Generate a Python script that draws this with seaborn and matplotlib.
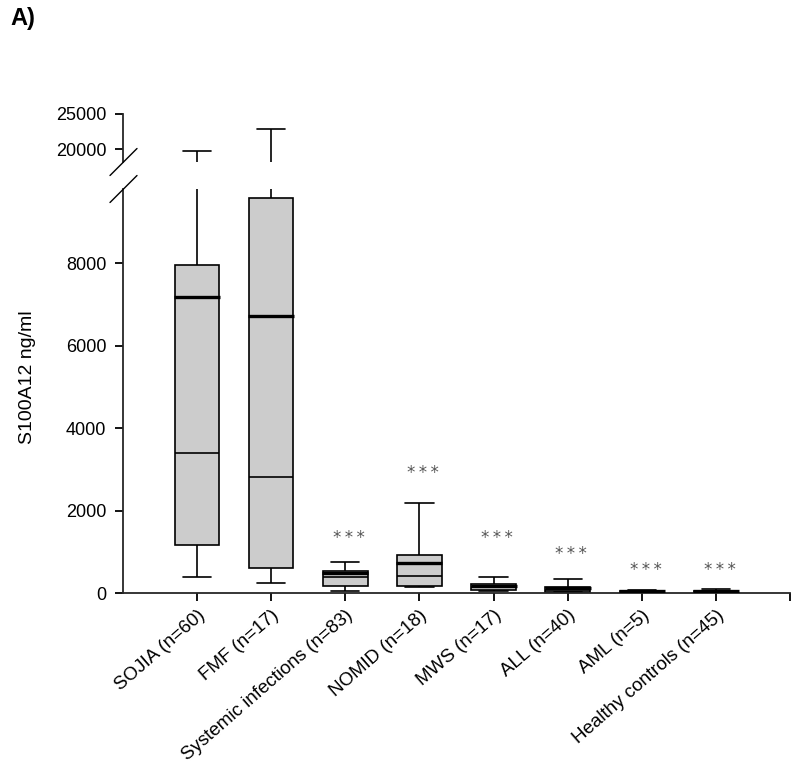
import matplotlib
matplotlib.use("Agg")
import matplotlib.pyplot as plt
from matplotlib.lines import Line2D
import seaborn as sns
import numpy as np
import pandas as pd

# groups and five-number summaries (ng/ml)
groups = ["SOJIA (n=60)", "FMF (n=17)", "Systemic infections (n=83)", "NOMID (n=18)",
          "MWS (n=17)", "ALL (n=40)", "AML (n=5)", "Healthy controls (n=45)"]
whisker_low = [390, 245, 56, 138, 50, 15, 10, 15]
q1 = [1165, 610, 162, 170, 73, 30, 18, 22]
median = [3400, 2815, 395, 420, 145, 80, 35, 40]
q3 = [7960, 9590, 540, 915, 225, 153, 55, 60]
whisker_high = [19700, 22860, 760, 2190, 380, 348, 75, 100]
# thick line inside each box
mean = [7180, 6720, 485, 728, 178, 130, 40, 45]
# significance marks (y of the text centre)
star_y = [None, None, 1340, 2920, 1340, 950, 560, 560]

sns.set_style("ticks")
plt.rcParams["font.family"] = ["Liberation Sans", "DejaVu Sans"]
plt.rcParams["text.color"] = "black"
plt.rcParams["xtick.color"] = "black"
plt.rcParams["ytick.color"] = "black"

# long form: each group holds its five summary values, so the boxplot
# quartiles land exactly on q1 / median / q3 and whiskers on min / max
rows = []
for g, a, b, c, d, e in zip(groups, whisker_low, q1, median, q3, whisker_high):
    for v in (a, b, c, d, e):
        rows.append({"group": g, "value": v})
df = pd.DataFrame(rows)

fig = plt.figure(figsize=(8, 7.64), dpi=100)
ax_lo = fig.add_axes([0.15375, 0.22382, 0.83375, 0.5288])
ax_hi = fig.add_axes([0.15375, 0.78796, 0.83375, 0.06283], sharex=ax_lo)

box_kw = dict(data=df, x="group", y="value", order=groups, whis=(0, 100),
              width=0.6, color="#cccccc", linecolor="black", linewidth=1.2,
              showfliers=False, capwidths=0.38)
for ax in (ax_lo, ax_hi):
    sns.boxplot(ax=ax, **box_kw)
    ax.hlines(mean, np.arange(len(groups)) - 0.31, np.arange(len(groups)) + 0.31,
              color="black", linewidth=2.4, zorder=5)
    ax.set_xlabel("")
    ax.set_ylabel("")
    for s in ("top", "right"):
        ax.spines[s].set_visible(False)
    for s in ("left", "bottom"):
        ax.spines[s].set_linewidth(1.3)
    ax.tick_params(width=1.3, length=6, pad=6, labelsize=13)

ax_lo.set_xlim(-1, 8)
ax_lo.set_ylim(0, 9800)
ax_lo.set_yticks([0, 2000, 4000, 6000, 8000])
ax_hi.set_ylim(18150, 25000)
ax_hi.set_yticks([20000, 25000])
ax_hi.spines["bottom"].set_visible(False)
ax_hi.tick_params(axis="x", bottom=False, labelbottom=False)

ax_lo.set_xticks(list(range(len(groups))) + [8])
ax_lo.set_xticklabels(groups + [""], rotation=41, ha="right", va="top",
                      rotation_mode="anchor", fontsize=13.5)
ax_lo.tick_params(axis="x", pad=4)

for i, sy in enumerate(star_y):
    if sy is not None:
        ax_lo.text(i + 0.05, sy, "*\u2009*\u2009*", ha="center", va="center",
                   fontsize=12, color="#555555", family="DejaVu Sans")

# break marks on the y axis
for yc in (162, 189):
    fig.add_artist(Line2D([110 / 800, 137 / 800],
                          [1 - (yc + 13.5) / 764, 1 - (yc - 13.5) / 764],
                          color="black", linewidth=1.0, transform=fig.transFigure))

fig.text(27 / 800, 1 - 377 / 764, "S100A12 ng/ml", rotation=90, ha="center",
         va="center", fontsize=14)
fig.text(10 / 800, 1 - 19 / 764, "A)", ha="left", va="center", fontsize=17,
         fontweight="bold")

fig.savefig("out.png", dpi=100)
